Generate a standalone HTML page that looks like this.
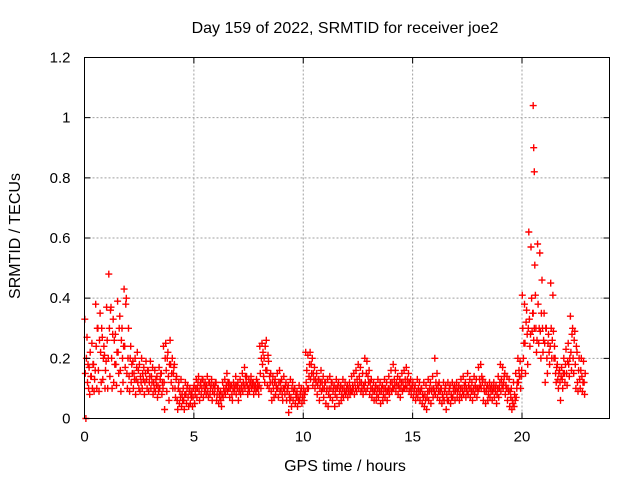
<!DOCTYPE html>
<html><head><meta charset="utf-8"><style>
body{margin:0;background:#fff}
svg{display:block;font-family:"Liberation Sans",sans-serif}
</style></head><body>
<svg id="chart" width="640" height="480" viewBox="0 0 640 480" xmlns="http://www.w3.org/2000/svg">
<rect x="0" y="0" width="640" height="480" fill="#fff"/>
<text x="345" y="33" font-size="16" text-anchor="middle" fill="#000">Day 159 of 2022, SRMTID for receiver joe2</text>
<text x="345" y="471" font-size="16" text-anchor="middle" fill="#000">GPS time / hours</text>
<text transform="translate(20,236) rotate(-90)" font-size="16" text-anchor="middle" fill="#000">SRMTID / TECUs</text>
<g id="grid"></g><g id="marks"></g><g id="axes"></g>
</svg>
<script>
const xTicks=[0,5,10,15,20];
const yTicks=[0,0.2,0.4,0.6,0.8,1,1.2];
const yTickLabels=["0","0.2","0.4","0.6","0.8","1","1.2"];
const binStartHours=0, binWidthHours=0.1;
const binValues=[
[.33,.15,0,.2],[.27,.12,.18,.1],[.17,.08,.22,.14],[.14,.25,.1,.18],[.18,.09,.13,.16],
[.38,.24,.1,.3],[.3,.16,.09,.26],[.35,.22,.12,.3],[.27,.13,.2,.24],[.21,.1,.16,.19],
[.37,.26,.1,.2],[.48,.3,.14,.36],[.37,.2,.1,.28],[.33,.12,.26,.18],[.28,.18,.11,.22],
[.39,.22,.15,.3],[.34,.16,.09,.26],[.3,.2,.12,.24],[.43,.24,.17,.38],[.4,.15,.1,.2],
[.3,.14,.09,.2],[.24,.12,.18,.15],[.19,.1,.15,.13],[.2,.08,.13,.17],[.22,.12,.16,.1],[.18,.09,.14,.12],[.2,.1,.15,.13],[.17,.08,.12,.15],[.19,.13,.1,.16],[.16,.09,.12,.14],
[.19,.1,.14,.12],[.17,.08,.12,.1],[.16,.09,.13,.11],[.14,.07,.11,.09],[.17,.1,.13,.15],[.15,.08,.12,.1],
[.24,.12,.03,.2],[.25,.16,.09,.2],[.22,.14,.06,.18],[.26,.18,.12,.15],[.2,.1,.15,.17],[.18,.1,.07,.13],
[.14,.06,.03,.1],[.12,.05,.09,.07],[.13,.04,.08,.06],[.1,.06,.03,.08],[.12,.08,.05,.1],[.11,.07,.04,.09],[.1,.05,.08,.07],[.09,.04,.07,.1],
[.11,.05,.08,.1],[.13,.07,.1,.12],[.14,.09,.06,.11],[.12,.08,.1,.13],[.13,.07,.11,.09],[.12,.1,.08,.11],[.14,.09,.07,.12],[.12,.08,.1,.11],[.13,.06,.09,.11],[.11,.08,.1,.12],
[.12,.06,.08,.1],[.1,.05,.08,.07],[.09,.06,.04,.08],[.12,.07,.1,.09],[.13,.08,.1,.11],[.15,.09,.12,.1],[.12,.07,.1,.11],[.11,.08,.06,.1],[.12,.09,.1,.11],[.14,.08,.11,.1],
[.12,.06,.09,.1],[.13,.08,.1,.11],[.15,.09,.12,.11],[.17,.1,.14,.12],[.14,.11,.08,.1],[.13,.09,.11,.12],[.14,.1,.12,.11],[.12,.08,.1,.11],[.11,.09,.13,.1],[.12,.1,.08,.11],
[.24,.15,.1,.2],[.25,.18,.22,.14],[.2,.12,.24,.16],[.26,.16,.11,.21],[.19,.1,.14,.12],
[.15,.09,.06,.12],[.14,.1,.07,.12],[.13,.08,.11,.1],[.15,.1,.07,.12],[.16,.09,.12,.1],[.13,.08,.06,.1],[.14,.1,.08,.11],[.12,.06,.09,.1],[.11,.02,.08,.06],[.13,.07,.04,.1],
[.12,.06,.09,.1],[.1,.05,.08,.07],[.09,.04,.07,.06],[.11,.06,.08,.09],[.1,.05,.07,.08],
[.1,.06,.08,.09],[.22,.12,.16,.1],[.21,.1,.14,.18],[.22,.13,.18,.15],[.2,.11,.15,.13],[.17,.1,.13,.12],
[.15,.08,.11,.13],[.13,.06,.1,.12],[.16,.09,.12,.1],[.14,.07,.1,.12],[.12,.05,.09,.1],[.13,.04,.08,.1],[.14,.07,.1,.12],[.12,.06,.09,.1],[.11,.04,.08,.1],[.13,.07,.1,.11],
[.12,.05,.09,.1],[.11,.06,.08,.1],[.13,.07,.1,.09],[.12,.08,.09,.1],[.11,.07,.09,.1],[.12,.08,.1,.09],[.14,.09,.11,.1],[.15,.08,.12,.1],[.16,.09,.13,.11],[.18,.1,.14,.12],
[.17,.09,.12,.1],[.15,.08,.11,.1],[.2,.12,.09,.15],[.19,.1,.14,.12],[.16,.08,.12,.1],[.13,.07,.1,.09],[.12,.06,.09,.1],[.11,.06,.08,.1],[.13,.07,.1,.09],[.12,.05,.09,.1],
[.11,.06,.08,.1],[.13,.07,.1,.09],[.12,.06,.09,.1],[.14,.08,.1,.12],[.16,.09,.12,.1],[.18,.1,.13,.11],[.16,.09,.12,.11],[.14,.08,.11,.1],[.13,.07,.1,.12],[.15,.09,.12,.1],
[.16,.1,.13,.11],[.17,.1,.13,.12],[.15,.09,.12,.1],[.13,.08,.1,.11],
[.12,.07,.09,.1],[.11,.06,.08,.09],[.13,.07,.1,.09],[.12,.06,.09,.1],[.1,.05,.08,.07],[.12,.04,.08,.06],[.11,.03,.07,.09],[.13,.06,.09,.1],[.12,.05,.09,.1],[.14,.07,.1,.09],
[.2,.08,.12,.1],[.15,.07,.11,.09],[.12,.06,.09,.1],[.1,.05,.08,.07],[.12,.06,.09,.1],[.11,.03,.08,.06],[.12,.06,.09,.1],[.11,.05,.08,.07],[.12,.07,.1,.09],[.11,.06,.09,.1],
[.12,.07,.09,.1],[.11,.06,.08,.1],[.13,.07,.1,.09],[.14,.08,.11,.1],[.12,.07,.1,.09],[.15,.08,.11,.1],[.13,.07,.1,.09],[.12,.06,.09,.1],[.14,.08,.11,.1],[.13,.07,.1,.09],
[.17,.1,.13,.11],[.18,.1,.14,.12],[.13,.06,.1,.09],[.12,.05,.09,.1],[.11,.06,.08,.1],[.12,.07,.1,.09],[.11,.06,.09,.1],[.12,.07,.1,.09],[.11,.05,.08,.1],[.14,.07,.1,.12],
[.18,.09,.13,.11],[.17,.1,.12,.14],[.15,.08,.11,.1],[.14,.06,.1,.09],[.13,.04,.09,.07],[.1,.03,.06,.05],[.12,.04,.08,.06],[.15,.07,.1,.12],[.2,.12,.16,.14],[.19,.1,.14,.16],
[.41,.3,.2,.25],[.38,.25,.15,.32],[.36,.28,.18,.3],[.62,.33,.24,.28],[.57,.4,.29,.35],
[1.04,.9,.82,.51,.35,.26,.3],[.41,.3,.22,.26],[.58,.38,.25,.3],[.55,.29,.2,.35],[.46,.3,.22,.26],
[.35,.25,.12,.3],[.3,.2,.15,.25],[.28,.22,.18,.24],[.45,.3,.2,.26],[.41,.29,.2,.24],
[.2,.15,.12,.17],[.18,.13,.1,.15],[.16,.12,.06,.14],[.17,.13,.1,.15],[.2,.15,.12,.18],
[.23,.15,.11,.19],[.25,.18,.14,.2],[.34,.22,.16,.28],[.3,.2,.15,.26],[.29,.18,.1,.24],
[.22,.12,.09,.16],[.2,.13,.1,.16],[.2,.14,.09,.12],[.19,.12,.08,.15]
];
const NS="http://www.w3.org/2000/svg";
const L=84.5,R=609.5,T=57.5,B=418.5,XMAX=24,YMAX=1.2;
function xs(v){return L+(R-L)*v/XMAX;}
function ys(v){return B-(B-T)*v/YMAX;}
function mk(tag,attrs,parent){const e=document.createElementNS(NS,tag);for(const k in attrs)e.setAttribute(k,attrs[k]);parent.appendChild(e);return e;}
const grid=document.getElementById('grid'),marks=document.getElementById('marks'),axes=document.getElementById('axes');
xTicks.forEach((t,i)=>{
  const x=xs(t);
  if(t>0){const g=mk('line',{x1:x,y1:T,x2:x,y2:B,stroke:'#a0a0a0','stroke-dasharray':'2,2','stroke-width':1},grid);
  
  }
  const tk=mk('path',{d:`M${x},${B}v-6M${x},${T}v6`,stroke:'#000','stroke-width':1},axes);
  
  
  const lb=mk('text',{x:x,y:B+23,'font-size':15,'text-anchor':'middle',fill:'#000'},axes);
  lb.textContent=String(t);
  
  
});
yTicks.forEach((t,i)=>{
  const y=ys(t);
  if(t>0&&t<YMAX){const g=mk('line',{x1:L,y1:y,x2:R,y2:y,stroke:'#a0a0a0','stroke-dasharray':'2,2','stroke-width':1},grid);
  
  }
  const tk=mk('path',{d:`M${L},${y}h6M${R},${y}h-6`,stroke:'#000','stroke-width':1},axes);
  
  
  const lb=mk('text',{x:L-14,y:y+5,'font-size':15,'text-anchor':'end',fill:'#000'},axes);
  lb.textContent=yTickLabels[i];
  
  
});
const frame=mk('rect',{x:L,y:T,width:R-L,height:B-T,fill:'none',stroke:'#000','stroke-width':1},axes);


binValues.forEach((arr,i)=>{
  const t0=binStartHours+i*binWidthHours;
  arr.forEach((v,j)=>{
    const x=xs(t0+binWidthHours*(j%4)/4+0.012),y=ys(v);
    const p=mk('path',{d:`M${(x-3.5).toFixed(1)},${y.toFixed(1)}h7M${x.toFixed(1)},${(y-3.5).toFixed(1)}v7`,stroke:'#ff0000','stroke-width':1.4},marks);
    
    
  });
});
</script>
</body></html>
